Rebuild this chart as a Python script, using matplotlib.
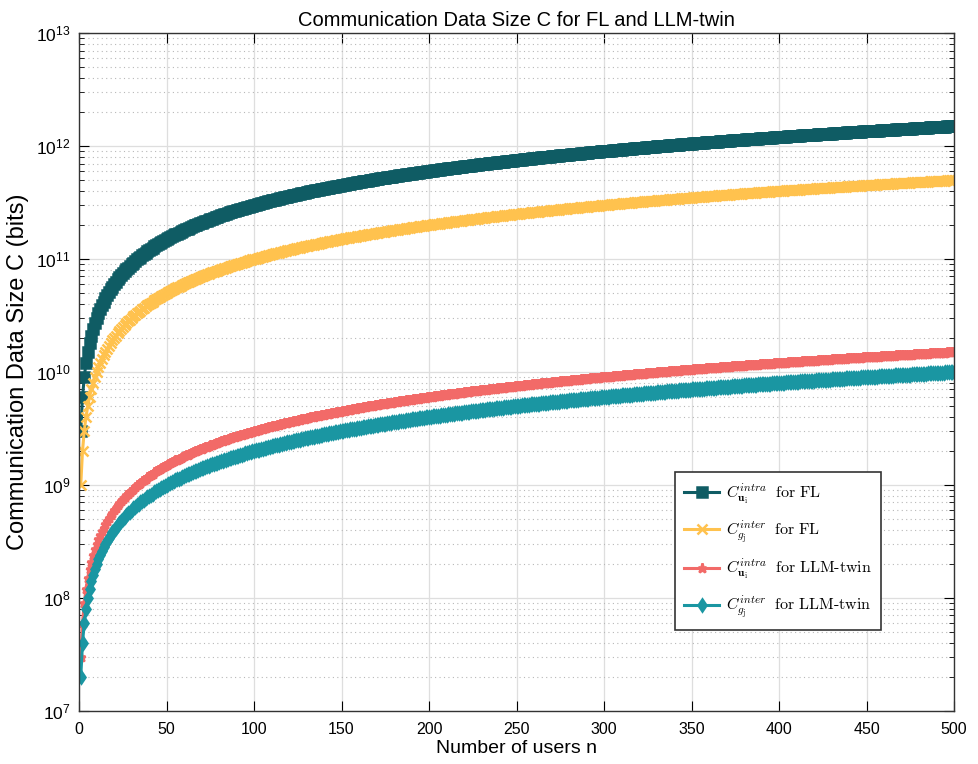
#!/usr/bin/python3
# coding: utf-8

import numpy as np
import matplotlib
matplotlib.use('Agg')
from matplotlib import pyplot as plt


n_users = np.arange(1, 501)
per_user_fl_intra = 3e9    # bits per user, C_u^intra for FL
per_user_fl_inter = 1e9    # C_g^inter for FL
per_user_llm_intra = 3e7   # C_u^intra for LLM-twin
per_user_llm_inter = 2e7   # C_g^inter for LLM-twin

labels = [r'$C_{\mathbf{u}_\mathrm{i}}^{intra}\ \ \mathrm{for\ FL}$',
          r'$C_{g_\mathrm{j}}^{inter}\ \ \mathrm{for\ FL}$',
          r'$C_{\mathbf{u}_\mathrm{i}}^{intra}\ \ \mathrm{for\ LLM\text{-}twin}$',
          r'$C_{g_\mathrm{j}}^{inter}\ \ \mathrm{for\ LLM\text{-}twin}$']
colors = ['#0f5c64', '#ffc24e', '#f26a68', '#1a96a2']
markers = ['s', 'x', '*', 'd']
x_ticks = np.arange(0, 501, 50)

plt.rcParams['font.family'] = ['Liberation Sans', 'DejaVu Sans']
plt.rcParams['mathtext.fontset'] = 'cm'

fig = plt.figure(figsize=(9.79, 7.64), dpi=100)
ax = fig.add_axes([0.0807, 0.0694, 0.8938, 0.8874])

series = [per_user_fl_intra, per_user_fl_inter, per_user_llm_intra, per_user_llm_inter]
for per_user, lab, col, mk in zip(series, labels, colors, markers):
    ax.plot(n_users, per_user * n_users, color=col, marker=mk, markersize=6.5,
            linewidth=2.2, markeredgewidth=1.8, label=lab)

ax.set_yscale('log')
ax.set_xlim(0, 500)
ax.set_ylim(1e7, 1e13)
ax.set_xticks(x_ticks)
ax.set_yticks([1e7, 1e8, 1e9, 1e10, 1e11, 1e12, 1e13])

ax.grid(True, which='major', color='#dedede', linewidth=0.9)
ax.grid(True, which='minor', axis='y', color='#b8b8b8', linestyle=(0, (1, 3)), linewidth=0.8)
ax.set_axisbelow(True)
ax.tick_params(which='both', direction='in', top=True, right=True)
ax.tick_params(axis='x', which='major', pad=8, labelsize=11.5)
ax.tick_params(axis='y', which='major', pad=6, labelsize=12.5)
ax.tick_params(which='major', length=7)
ax.tick_params(which='minor', length=3.5)
for sp in ax.spines.values():
    sp.set_color('#333333')
    sp.set_linewidth(1.0)

ax.set_title('Communication Data Size C for FL and LLM-twin', fontsize=14.5, pad=5)
ax.set_xlabel('Number of users n', fontsize=14, labelpad=2)
ax.set_ylabel('Communication Data Size C (bits)', fontsize=17, labelpad=5)

leg = ax.legend(loc='lower right', bbox_to_anchor=(0.9166, 0.1195), fontsize=11.5,
                fancybox=False, edgecolor='#333333', framealpha=1, borderaxespad=0,
                labelspacing=0.75, handlelength=2.2, handletextpad=0.4, borderpad=0.6)
leg.get_frame().set_linewidth(1.2)

plt.savefig('out.png')
